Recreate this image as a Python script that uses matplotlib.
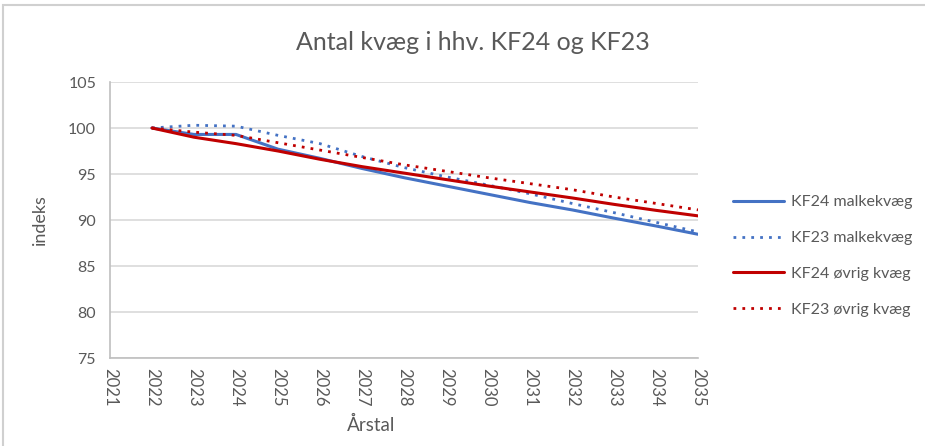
import matplotlib
matplotlib.use("Agg")
import matplotlib.pyplot as plt
from matplotlib.patches import Rectangle

plt.rcParams['font.family'] = ['Lato', 'DejaVu Sans']

years = [str(y) for y in range(2021, 2036)]
data_years = years[1:]
kf24_malke = [100, 99.3, 99.3, 97.7, 96.7, 95.6, 94.6, 93.7, 92.8, 91.9, 91.1, 90.2, 89.35, 88.45]
kf23_malke = [100, 100.3, 100.2, 99.2, 98.3, 96.9, 95.7, 94.7, 93.8, 92.85, 91.8, 90.8, 89.75, 88.7]
kf24_ovrig = [100, 99.0, 98.3, 97.5, 96.6, 95.8, 95.1, 94.4, 93.7, 93.05, 92.4, 91.7, 91.05, 90.45]
kf23_ovrig = [100, 99.55, 99.2, 98.4, 97.6, 96.8, 96.0, 95.3, 94.6, 93.95, 93.3, 92.5, 91.8, 91.1]
series_labels = ["KF24 malkekvæg", "KF23 malkekvæg", "KF24 øvrig kvæg", "KF23 øvrig kvæg"]
title = "Antal kvæg i hhv. KF24 og KF23"
yticks = [75, 80, 85, 90, 95, 100, 105]

W, H = 925, 446
fig = plt.figure(figsize=(W / 100, H / 100), dpi=100)
fig.patches.append(Rectangle((3 / W, -0.1), 1.2, 1 - 5 / H + 0.1, transform=fig.transFigure,
                             facecolor='none', edgecolor='#d0d0d0', linewidth=1.5))

ax = fig.add_axes([110 / W, (H - 358) / H, 588 / W, 276 / H])
x_all = list(range(len(years)))
x_data = x_all[1:]

blue = '#4472c4'
red = '#c00000'
ax.plot(x_data, kf24_malke, color=blue, lw=2.2, label=series_labels[0], solid_capstyle='round')
ax.plot(x_data, kf23_malke, color=blue, lw=2.0, ls=(0, (1, 2.2)), label=series_labels[1])
ax.plot(x_data, kf24_ovrig, color=red, lw=2.2, label=series_labels[2], solid_capstyle='round')
ax.plot(x_data, kf23_ovrig, color=red, lw=2.0, ls=(0, (1, 2.2)), label=series_labels[3])

ax.set_xlim(0, len(years) - 1)
ax.set_ylim(75, 105)
ax.set_yticks(yticks)
ax.set_xticks(x_all)
ax.set_xticklabels(years, rotation=-90, fontsize=12, color='#595959')
ax.tick_params(axis='y', labelsize=11.5, labelcolor='#595959', length=0, pad=10)
ax.tick_params(axis='x', length=0, pad=7)
ax.grid(axis='y', color='#d9d9d9', lw=1.2)
ax.set_axisbelow(True)
for s in ['top', 'right']:
    ax.spines[s].set_visible(False)
for s in ['left', 'bottom']:
    ax.spines[s].set_color('#bfbfbf')
    ax.spines[s].set_linewidth(1.2)

fig.text(473 / W, 1 - 42 / H, title, ha='center', va='center', fontsize=18, color='#595959')
fig.text(40 / W, 1 - 220 / H, "indeks", rotation=90, ha='center', va='center', fontsize=13, color='#595959')
fig.text(371 / W, 1 - 425 / H, "Årstal", ha='center', va='center', fontsize=13.5, color='#595959')

leg = fig.legend(loc='center left', bbox_to_anchor=(733 / W, 1 - 256 / H), frameon=False,
                 fontsize=11.5, labelspacing=1.35, handlelength=3.2, handletextpad=0.45,
                 borderpad=0, borderaxespad=0)
for t in leg.get_texts():
    t.set_color('#595959')

fig.savefig("out.png", dpi=100)
